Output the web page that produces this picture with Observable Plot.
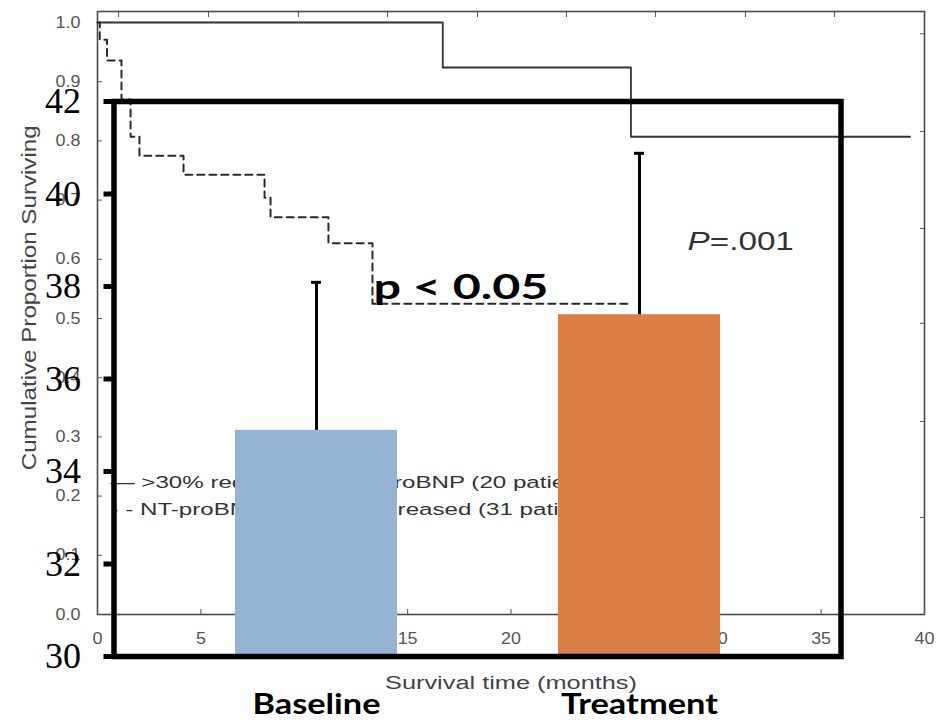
<!DOCTYPE html>
<html><head><meta charset="utf-8">
<script src="https://cdn.jsdelivr.net/npm/d3@7"></script>
<script src="https://cdn.jsdelivr.net/npm/@observablehq/plot@0.6"></script>
<style>
html,body{margin:0;padding:0;background:#fff;}
#wrap{position:relative;width:939px;height:721px;overflow:hidden;background:#fff;}
#wrap svg{position:absolute;left:0;top:0;}
</style></head>
<body><div id="wrap"></div>
<script>
// ---------- Background: Kaplan-Meier survival curves ----------
const solidTime = [0, 16.7, 25.8, 39.3];
const solidSurv = [1.0, 0.924, 0.807, 0.807];
const dashedTime = [0, 0.11, 0.46, 1.16, 1.6, 2.03, 4.16, 8.08, 8.37, 11.17, 13.3, 25.8];
const dashedSurv = [1.0, 0.971, 0.936, 0.870, 0.807, 0.775, 0.743, 0.704, 0.671, 0.627, 0.525, 0.525];
const kmXTicks = [0, 5, 10, 15, 20, 25, 30, 35, 40];
const kmYTicks = [0.0, 0.1, 0.2, 0.3, 0.4, 0.5, 0.6, 0.7, 0.8, 0.9, 1.0];
const kmTopTicks = [1.02, 5.37, 9.72, 14.03, 18.38, 22.68, 26.99, 31.34, 35.65];
const kmRightTicks = [0.164, 0.326, 0.492, 0.652, 0.816, 0.981];
const kmXLabel = "Survival time (months)";
const kmYLabel = "Cumulative Proportion Surviving";
const legendLabels = ["\u2014 >30% reduction in NT-proBNP (20 patients)", "- - NT-proBNP <30% or increased (31 patients)"];
const pValueLabel = "P=.001";

// ---------- Foreground: bar chart ----------
const groups = ["Baseline", "Treatment"];
const means = [34.89, 37.39];
const upperErr = [38.09, 40.88];
const barColors = ["#95B4D3", "#DC7F47"];
const barTicks = [30, 32, 34, 36, 38, 40, 42];
const sigLabel = "p < 0.05";

const solidData = solidTime.map((t, i) => ({t, s: solidSurv[i]}));
const dashedData = dashedTime.map((t, i) => ({t, s: dashedSurv[i]}));
const barData = groups.map((g, i) => ({group: g, mean: means[i], err: upperErr[i]}));

const sans = "'Liberation Sans', Arial, sans-serif";
const gray = "#4a4a4a";

const km = Plot.plot({
  width: 939, height: 721,
  marginLeft: 97, marginRight: 15, marginTop: 11, marginBottom: 107,
  style: {background: "transparent", fontFamily: sans, overflow: "visible"},
  x: {domain: [0, 40]},
  y: {domain: [0, 1.0186]},
  marks: [
    Plot.frame({stroke: gray, strokeWidth: 1.6}),
    Plot.axisY({ticks: kmYTicks, tickFormat: d => d.toFixed(1), tickSize: -5, tickPadding: 22, fontSize: 16, color: "#555", label: null}),
    Plot.axisX({ticks: kmXTicks, tickSize: -5, tickPadding: 23, fontSize: 16, color: "#555", label: null}),
    Plot.axisX({anchor: "top", ticks: kmTopTicks, tickSize: -5, tickFormat: () => "", color: "#555", label: null}),
    Plot.axisY({anchor: "right", ticks: kmRightTicks, tickSize: -5, tickFormat: () => "", color: "#555", label: null}),
    Plot.line(solidData, {x: "t", y: "s", curve: "step-after", stroke: "#333", strokeWidth: 1.8}),
    Plot.line(dashedData, {x: "t", y: "s", curve: "step-after", stroke: "#2a2a2a", strokeWidth: 2, strokeDasharray: "7,5"}),
    Plot.text([kmXLabel], {x: () => 20, frameAnchor: "bottom", dy: 74, lineAnchor: "bottom", fontSize: 18, fill: "#444"}),
    Plot.text([kmYLabel], {y: () => 0.535, frameAnchor: "left", dx: -68, rotate: -90, textAnchor: "middle", lineAnchor: "middle", fontSize: 21, fill: "#444"}),
    Plot.text([legendLabels[0]], {x: () => 0.63, y: () => 0.223, textAnchor: "start", lineAnchor: "middle", fontSize: 17, fill: "#333"}),
    Plot.text([legendLabels[1]], {x: () => 0.63, y: () => 0.177, textAnchor: "start", lineAnchor: "middle", fontSize: 17, fill: "#333"}),
    Plot.text([pValueLabel], {x: () => 28.54, y: () => 0.615, textAnchor: "start", lineAnchor: "bottom", fontSize: 25, fill: "#333"})
  ]
});

const bars = Plot.plot({
  width: 939, height: 721,
  marginLeft: 113.5, marginRight: 98.5, marginTop: 101, marginBottom: 65,
  style: {background: "transparent", overflow: "visible"},
  x: {domain: groups, paddingInner: 0.5, paddingOuter: 0.372},
  y: {domain: [30, 42]},
  color: {domain: groups, range: barColors},
  marks: [
    Plot.barY(barData, {x: "group", y1: 30, y2: "mean", fill: "group"}),
    Plot.ruleX(barData, {x: "group", y1: "mean", y2: "err", stroke: "black", strokeWidth: 3}),
    Plot.tickY(barData, {x: "group", y: "err", stroke: "black", strokeWidth: 3, insetLeft: 76, insetRight: 76}),
    Plot.frame({stroke: "black", strokeWidth: 5.5}),
    Plot.axisY({ticks: barTicks, tickSize: 10, tickPadding: 23, strokeWidth: 5, fontSize: 36, fontFamily: "'Liberation Serif', 'Times New Roman', serif", color: "black", label: null}),
    Plot.axisX({tickSize: 0, tickPadding: 38, fontSize: 28, fontWeight: "bold", fontFamily: "Lato, 'Open Sans', sans-serif", color: "black", label: null}),
    Plot.text([sigLabel], {x: () => groups[0], y: () => 37.73, dx: 57, textAnchor: "start", lineAnchor: "bottom", fontSize: 35, fontWeight: "bold", fontFamily: "Lato, 'Open Sans', sans-serif", fill: "black"})
  ]
});

const wrap = document.getElementById("wrap");
wrap.appendChild(km);
wrap.appendChild(bars);

function texts(svg, pred) {
  return Array.from(svg.querySelectorAll("text")).filter(t => pred(t));
}
function scaleText(t, sx) {
  t.setAttribute("transform", (t.getAttribute("transform") || "") + ` scale(${sx},1)`);
}
function fitText(svg, content, width) {
  texts(svg, t => t.textContent === content).forEach(t => {
    const w = t.getComputedTextLength();
    if (w > 0) scaleText(t, width / w);
  });
}
// italic P in the p-value label
texts(km, t => t.textContent === pValueLabel).forEach(t => {
  t.textContent = "";
  const a = document.createElementNS("http://www.w3.org/2000/svg", "tspan");
  a.setAttribute("font-style", "italic"); a.textContent = "P";
  const b = document.createElementNS("http://www.w3.org/2000/svg", "tspan");
  b.textContent = "=.001";
  t.appendChild(a); t.appendChild(b);
  scaleText(t, 1.33);
});
texts(km, t => legendLabels.includes(t.textContent)).forEach(t => scaleText(t, 1.42));
fitText(km, kmXLabel, 252);
fitText(km, kmYLabel, 345);
km.querySelectorAll('g[aria-label="x-axis tick label"] text, g[aria-label="y-axis tick label"] text').forEach(t => scaleText(t, 1.12));
fitText(bars, sigLabel, 175);
fitText(bars, "Baseline", 128);
fitText(bars, "Treatment", 157);
</script></body></html>
